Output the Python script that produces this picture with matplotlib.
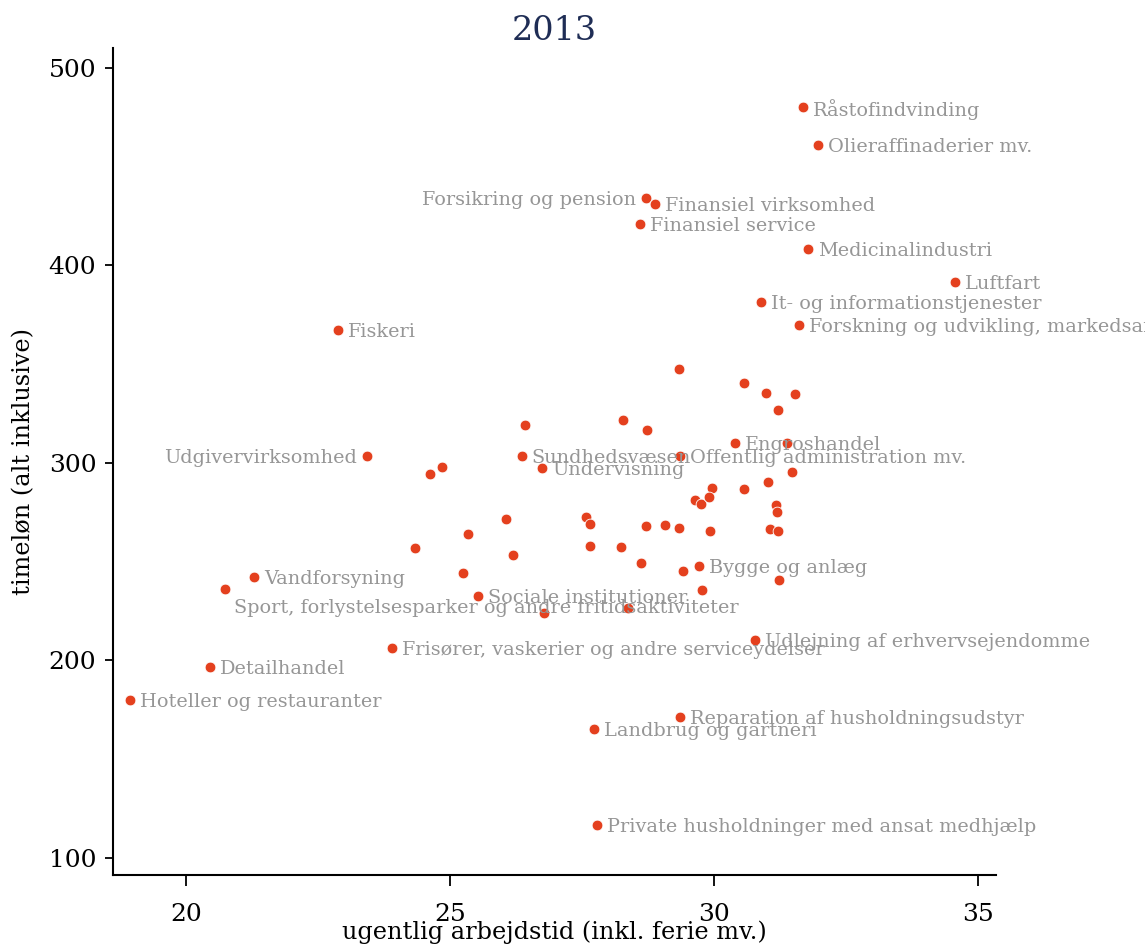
import matplotlib
matplotlib.use("Agg")
import matplotlib.pyplot as plt

plt.rcParams['font.family'] = ['DejaVu Serif']

# labelled industries: name, weekly hours, hourly wage
names = ["Råstofindvinding", "Olieraffinaderier mv.", "Forsikring og pension",
         "Finansiel virksomhed", "Finansiel service", "Medicinalindustri",
         "Luftfart", "It- og informationstjenester",
         "Forskning og udvikling, markedsanalyse mv.", "Fiskeri",
         "Udgivervirksomhed", "Engroshandel", "Sundhedsvæsen",
         "Offentlig administration mv.", "Undervisning", "Bygge og anlæg",
         "Vandforsyning", "Sociale institutioner",
         "Sport, forlystelsesparker og andre fritidsaktiviteter",
         "Frisører, vaskerier og andre serviceydelser",
         "Udlejning af erhvervsejendomme", "Detailhandel",
         "Hoteller og restauranter", "Reparation af husholdningsudstyr",
         "Landbrug og gartneri", "Private husholdninger med ansat medhjælp"]
hours = [31.69, 31.97, 28.71, 28.88, 28.60, 31.78, 34.56, 30.89, 31.61, 22.88,
         23.43, 30.40, 26.36, 29.36, 26.74, 29.72, 21.29, 25.53, 20.74, 23.90,
         30.78, 20.45, 18.94, 29.36, 27.73, 27.78]
wage = [480, 461, 434, 431, 421, 408, 391.6, 381.5, 369.8, 367.2,
        303.5, 310, 303.5, 303.5, 297.4, 247.8, 242.2, 232.6, 236, 206.2,
        210.3, 196.6, 179.9, 171.3, 165.2, 116.6]

# unlabelled industries
hours_other = [29.33, 30.56, 30.98, 31.53, 31.21, 26.43, 28.27, 28.73, 31.39,
               31.48, 24.62, 24.84, 29.96, 30.56, 31.03, 29.64, 29.75, 29.91,
               31.17, 31.19, 26.06, 27.57, 27.65, 28.71, 29.07, 29.34, 29.93,
               31.06, 31.22, 25.35, 24.34, 27.65, 28.24, 26.19, 28.62, 25.24,
               29.42, 29.77, 31.23, 28.37, 26.79]
wage_other = [347.4, 340.3, 335.3, 334.8, 326.8, 319.2, 321.7, 316.3, 310,
              295.5, 294.4, 297.8, 287.1, 286.6, 290.3, 281.2, 279.2, 282.6,
              278.7, 274.8, 271.7, 272.7, 269, 267.9, 268.5, 266.7, 265.5,
              266.5, 265.2, 264, 256.9, 257.9, 257.5, 253, 249.3, 244.2,
              245.1, 235.6, 240.4, 226.6, 223.8]

# label placement (clock position): 3 = right, 9 = left, 4 = right-below
label_pos = {"Forsikring og pension": 9, "Udgivervirksomhed": 9,
             "Sport, forlystelsesparker og andre fritidsaktiviteter": 4}

DOT = '#e4401e'
GREY = '#969696'

fig = plt.figure(figsize=(11.45, 9.48), dpi=100)
ax = fig.add_axes([0.0987, 0.077, 0.7712, 0.8724])

ax.scatter(hours_other, wage_other, s=60, color=DOT, edgecolor='white',
           linewidth=0.6, zorder=3, clip_on=False)
ax.scatter(hours, wage, s=60, color=DOT, edgecolor='white',
           linewidth=0.6, zorder=3, clip_on=False)

for n, x, y in zip(names, hours, wage):
    p = label_pos.get(n, 3)
    if p == 9:
        off, ha = (-10, -2), 'right'
    elif p == 4:
        off, ha = (9, -19), 'left'
    else:
        off, ha = (10, -2), 'left'
    ax.annotate(n, (x, y), xytext=off, textcoords='offset pixels',
                ha=ha, va='center', fontsize=13.9, color=GREY,
                annotation_clip=False, zorder=4)

ax.set_xlim(18.62, 35.34)
ax.set_ylim(91.2, 510)
ax.set_xticks([20, 25, 30, 35])
ax.set_yticks([100, 200, 300, 400, 500])

for s in ['top', 'right']:
    ax.spines[s].set_visible(False)
for s in ['left', 'bottom']:
    ax.spines[s].set_linewidth(1.5)

ax.tick_params(axis='x', length=8, width=1.3, pad=12, labelsize=18)
ax.tick_params(axis='y', length=6, width=1.3, pad=6, labelsize=18)

ax.set_xlabel("ugentlig arbejdstid (inkl. ferie mv.)", fontsize=17.3, labelpad=-4)
ax.set_ylabel("timeløn (alt inklusive)", fontsize=17.3, labelpad=10)
ax.set_title("2013", fontsize=24, color='#1f2d55', pad=6)

plt.savefig("out.png", dpi=100)
